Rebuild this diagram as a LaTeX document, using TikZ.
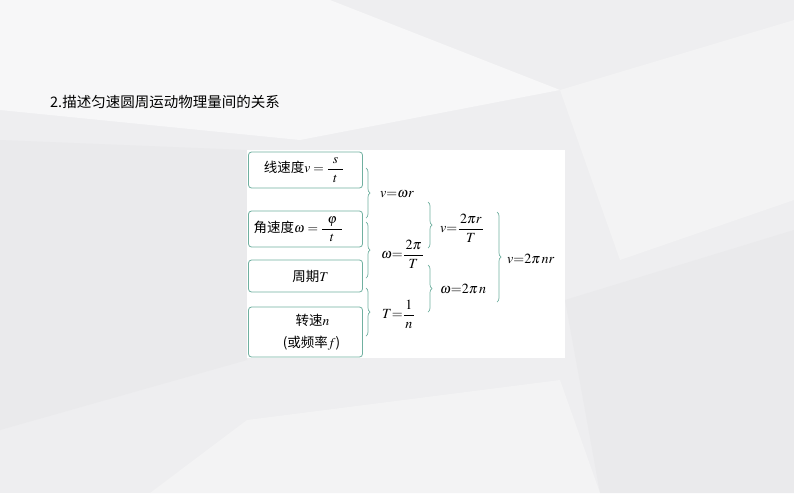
\documentclass[tikz,border=0pt]{standalone}
\usepackage{amsmath}
\usepackage{mathptmx}
\usepackage[no-math]{fontspec}
\setmainfont{Noto Sans CJK SC}
\usetikzlibrary{positioning, calc, decorations.pathreplacing}

\begin{document}
\begin{tikzpicture}[x=1pt, y=-1pt,
    qbox/.style={draw=boxC, fill=white, rounded corners=3pt, line width=0.8pt,
                 minimum width=114pt, align=center, font=\fontsize{13.5}{22}\selectfont},
    lbl/.style={anchor=west, inner sep=0pt, font=\fontsize{14}{16}\selectfont},
    brc/.style={draw=boxC, line width=0.7pt, decorate, decoration={brace, amplitude=4pt}},
]

% Color definitions
\definecolor{boxC}{RGB}{112,176,160}
\definecolor{bgC}{RGB}{238,238,240}
\definecolor{bgA}{RGB}{247,247,248}
\definecolor{bgB}{RGB}{243,243,244}
\definecolor{bgD}{RGB}{234,234,236}

% Background facets
\fill[bgC] (0,0) rectangle (794,493);
\fill[bgA] (0,0) -- (330,0) -- (560,90) -- (300,140) -- (0,110) -- cycle;
\fill[bgB] (560,90) -- (794,20) -- (794,200) -- (620,260) -- cycle;
\fill[bgD] (0,140) -- (247,150) -- (247,360) -- (0,430) -- cycle;
\fill[bgD] (565,300) -- (794,230) -- (794,493) -- (600,493) -- cycle;
\fill[bgB] (247,420) -- (560,380) -- (600,493) -- (150,493) -- cycle;
\useasboundingbox (0,0) rectangle (794,493);

% Title
\node[anchor=west, inner sep=0pt, font=\fontsize{14.5}{16}\selectfont] (title) at (50,102)
  {2.描述匀速圆周运动物理量间的关系};

% Panel
\fill[white] (247,150) rectangle (565,358);

% Quantities
\node[qbox, minimum height=36pt] (lin) at (305.5,170)
  {\hspace{-3pt}线速度$v=\dfrac{\makebox[15pt]{$s$}}{t}$};
\node[qbox, minimum height=36pt] (ang) at (305.5,229)
  {\hspace{-14pt}角速度$\omega=\dfrac{\makebox[20pt]{$\varphi$}}{t}$};
\node[qbox, minimum height=32pt] (per) at (305.5,276) {\hspace{10pt}周期$T$};
\node[qbox, minimum height=50pt] (rot) at (305.5,332) {\hspace{14pt}转速$n$\\\hspace{12pt}(或频率$f$)};

% Brace ends
\coordinate (a1) at (366,168); \coordinate (a2) at (366,218);
\coordinate (b1) at (366,222); \coordinate (b2) at (366,278);
\coordinate (c1) at (366,288); \coordinate (c2) at (366,336);
\coordinate (d1) at (428,202); \coordinate (d2) at (428,248);
\coordinate (e1) at (428,265); \coordinate (e2) at (428,312);
\coordinate (f1) at (497,212); \coordinate (f2) at (497,302);

\foreach \p/\q in {a1/a2, b1/b2, c1/c2, d1/d2, e1/e2, f1/f2} {
  \draw[brc] (\p) -- (\q);
}

% Relations
\node[lbl] (vwr) at ($(a1)!0.5!(a2)+(14,1)$) {$v{=}\omega r$};
\node[lbl] (wT)  at ($(b1)!0.5!(b2)+(15,4)$) {$\omega{=}\dfrac{\,2\pi\,}{T}$};
\node[lbl] (Tn)  at ($(c1)!0.5!(c2)+(16,2)$) {$T{=}\dfrac{\,1\,}{n}$};
\node[lbl] (vT)  at ($(d1)!0.5!(d2)+(12,3)$) {$v{=}\dfrac{\,2\pi r\,}{T}$};
\node[lbl] (wn)  at ($(e1)!0.5!(e2)+(12,0)$) {$\omega{=}2\pi\, n$};
\node[lbl] (vnr) at ($(f1)!0.5!(f2)+(10,2)$) {$v{=}2\pi\, nr$};

\end{tikzpicture}
\end{document}
